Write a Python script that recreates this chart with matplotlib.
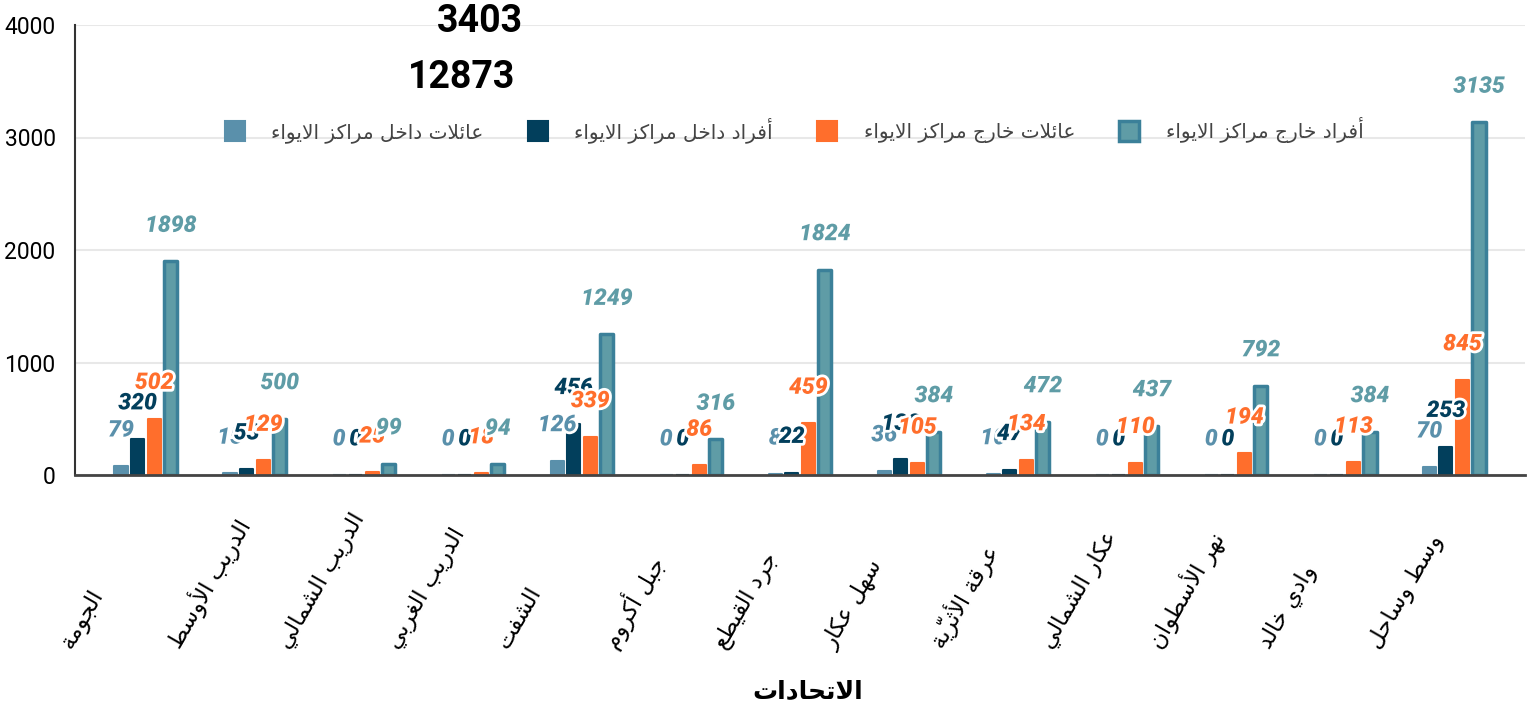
import unicodedata
import numpy as np
import matplotlib
matplotlib.use('Agg')
from matplotlib import pyplot as plt
from matplotlib import patheffects as pe

# البيانات
categories = ['الجومة', 'الدريب الأوسط', 'الدريب الشمالي', 'الدريب الغربي', 'الشفت',
              'جبل أكروم', 'جرد القيطع', 'سهل عكار', 'عرقة الأثريّة', 'عكار الشمالي',
              'نهر الأسطوان', 'وادي خالد', 'وسط وساحل']
series_names = ['عائلات داخل مراكز الايواء', 'أفراد داخل مراكز الايواء',
                'عائلات خارج مراكز الايواء', 'أفراد خارج مراكز الايواء']
families_in = [79, 15, 0, 0, 126, 0, 8, 36, 10, 0, 0, 0, 70]
people_in = [320, 53, 0, 0, 456, 0, 22, 138, 47, 0, 0, 0, 253]
families_out = [502, 129, 25, 18, 339, 86, 459, 105, 134, 110, 194, 113, 845]
people_out = [1898, 500, 99, 94, 1249, 316, 1824, 384, 472, 437, 792, 384, 3135]
totals = ['3403', '12873']
x_title = 'الاتحادات'
y_ticks = [0, 1000, 2000, 3000, 4000]

# matplotlib لا يقوم بتشكيل الحروف العربية، لذلك نحولها إلى أشكال العرض يدوياً
JOIN = {'آ': (0xFE81, 2), 'أ': (0xFE83, 2), 'ؤ': (0xFE85, 2), 'إ': (0xFE87, 2),
        'ئ': (0xFE89, 4), 'ا': (0xFE8D, 2), 'ب': (0xFE8F, 4), 'ة': (0xFE93, 2),
        'ت': (0xFE95, 4), 'ث': (0xFE99, 4), 'ج': (0xFE9D, 4), 'ح': (0xFEA1, 4),
        'خ': (0xFEA5, 4), 'د': (0xFEA9, 2), 'ذ': (0xFEAB, 2), 'ر': (0xFEAD, 2),
        'ز': (0xFEAF, 2), 'س': (0xFEB1, 4), 'ش': (0xFEB5, 4), 'ص': (0xFEB9, 4),
        'ض': (0xFEBD, 4), 'ط': (0xFEC1, 4), 'ظ': (0xFEC5, 4), 'ع': (0xFEC9, 4),
        'غ': (0xFECD, 4), 'ف': (0xFED1, 4), 'ق': (0xFED5, 4), 'ك': (0xFED9, 4),
        'ل': (0xFEDD, 4), 'م': (0xFEE1, 4), 'ن': (0xFEE5, 4), 'ه': (0xFEE9, 4),
        'و': (0xFEED, 2), 'ى': (0xFEEF, 2), 'ي': (0xFEF1, 4)}
LAM_ALEF = {'آ': 0xFEF5, 'أ': 0xFEF7, 'إ': 0xFEF9, 'ا': 0xFEFB}


def jtype(c):
    if len(c) == 2:
        return 'R'
    if c not in JOIN:
        return None
    return 'D' if JOIN[c][1] == 4 else 'R'


def ar(text):
    toks = []
    for ch in text:
        if unicodedata.combining(ch) and toks:
            toks[-1][1] += ch
        else:
            toks.append([ch, ''])
    merged = []
    i = 0
    while i < len(toks):
        ch, mk = toks[i]
        if ch == 'ل' and i + 1 < len(toks) and toks[i + 1][0] in LAM_ALEF:
            merged.append([ch + toks[i + 1][0], mk + toks[i + 1][1]])
            i += 2
        else:
            merged.append([ch, mk])
            i += 1
    out = []
    for i, (c, mk) in enumerate(merged):
        t = jtype(c)
        if t is None:
            out.append(c + mk)
            continue
        prev = jtype(merged[i - 1][0]) if i > 0 else None
        nxt = jtype(merged[i + 1][0]) if i + 1 < len(merged) else None
        cp = prev == 'D'
        cn = t == 'D' and nxt is not None
        if len(c) == 2:
            g = chr(LAM_ALEF[c[1]] + (1 if cp else 0))
        else:
            start, n = JOIN[c]
            idx = 3 if (cp and cn) else 1 if cp else 2 if cn else 0
            g = chr(start + idx)
        out.append(g + mk)
    return ''.join(reversed(out))


colors = ['#5a90ab', '#023f5c', '#ff6e2c', '#5f9ca6']
teal_edge = '#3b8099'

fig = plt.figure(figsize=(15.34, 7.17), dpi=100)
ax = fig.add_axes([75 / 1534, (717 - 475) / 717, 1450 / 1534, 450 / 717])

x = np.arange(len(categories))
bw = 0.12
step = 0.152
data = [families_in, people_in, families_out, people_out]
for k, vals in enumerate(data):
    xs = x + (k - 1.5) * step
    if k == 3:
        ax.bar(xs, vals, width=bw, color=colors[k], edgecolor=teal_edge, linewidth=2.5,
               joinstyle='round', zorder=2, label=ar(series_names[k]))
    else:
        ax.bar(xs, vals, width=bw, color=colors[k], edgecolor=colors[k], linewidth=1.5,
               joinstyle='round', zorder=2, label=ar(series_names[k]))

# القيم فوق الأعمدة
for k, vals in enumerate(data):
    xs = x + (k - 1.5) * step
    for xi, v in zip(xs, vals):
        ax.annotate(str(v), (xi, v), xytext=(0, 26), textcoords='offset points',
                    ha='center', va='center', fontsize=16.5, fontweight='black',
                    fontstyle='italic', family='Roboto', color=colors[k], zorder=5,
                    path_effects=[pe.withStroke(linewidth=4, foreground='white')],
                    annotation_clip=False)

ax.set_xlim(-0.65, 12.65)
ax.set_ylim(0, 4000)
ax.set_yticks(y_ticks)
ax.set_yticklabels([str(t) for t in y_ticks], family='Roboto', fontsize=16.5)
ax.set_xticks([])
ax.tick_params(axis='y', length=0, pad=14)
ax.grid(axis='y', color='#e8e8e8', linewidth=1.5, zorder=0)
ax.set_axisbelow(True)
for s in ['top', 'right']:
    ax.spines[s].set_visible(False)
ax.spines['left'].set_color('#333333')
ax.spines['left'].set_linewidth(1.5)
ax.spines['bottom'].set_color('#444444')
ax.spines['bottom'].set_linewidth(2)

for i, c in enumerate(categories):
    ax.text(i - 0.64, -0.395, ar(c), transform=ax.get_xaxis_transform(), rotation=60,
            rotation_mode='anchor', ha='left', va='bottom', fontsize=16.5,
            family='DejaVu Sans', color='black')

fig.text(808 / 1534, 1 - 692 / 717, ar(x_title), ha='center', va='center',
         fontsize=18, fontweight='bold', family='DejaVu Sans')

leg = ax.legend(loc='center', bbox_to_anchor=(0.496, 0.767), ncol=4, frameon=False,
                prop={'family': 'DejaVu Sans', 'size': 14.5}, handlelength=1.0,
                handleheight=1.2, handletextpad=1.3, columnspacing=2.2)
for t in leg.get_texts():
    t.set_color('#444444')

fig.text(480 / 1534, 1 - 22 / 717, totals[0], ha='center', va='center', fontsize=27,
         fontweight='bold', family='Roboto')
fig.text(462 / 1534, 1 - 78 / 717, totals[1], ha='center', va='center', fontsize=27,
         fontweight='bold', family='Roboto')

fig.savefig('out.png', dpi=100)
